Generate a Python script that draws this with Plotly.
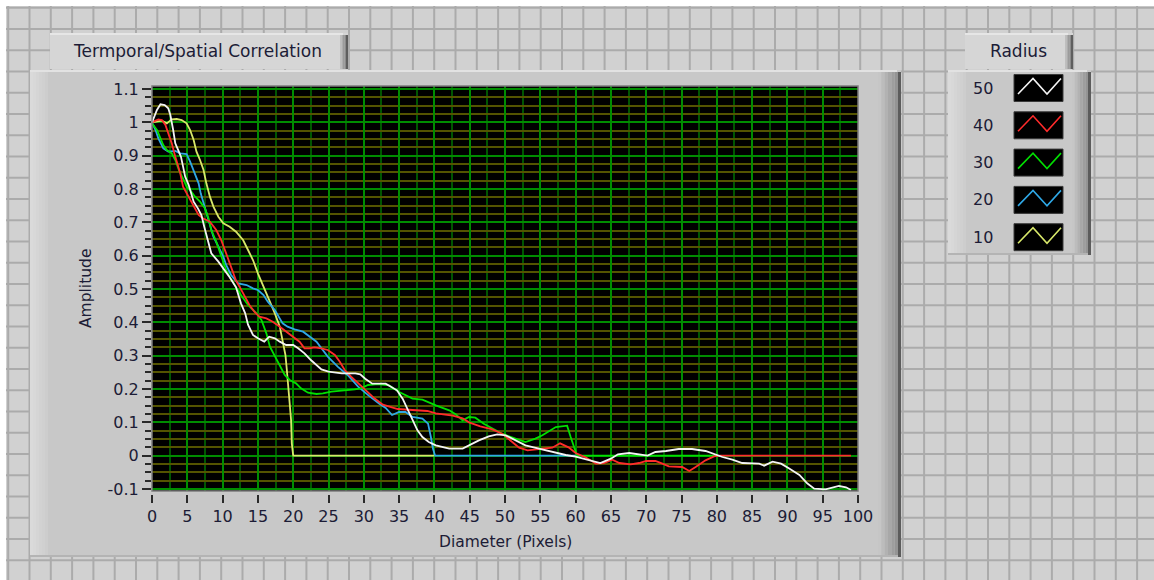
import plotly.graph_objects as go

# ---------------- data ----------------
radius_labels = ["50", "40", "30", "20", "10"]
series_colors = ["#f4f4f4", "#ff2b2b", "#00e000", "#2fa8e6", "#d8e86a"]

r50_x = [0, 0.7, 1.2, 1.8, 2.3, 2.6, 3.0, 3.3, 3.8, 4.1, 4.4, 4.7, 5.2, 5.5, 5.9, 6.5, 7.0,
         7.4, 8.0, 8.4, 9.4, 10.1, 11.0, 11.9, 12.6, 13.2, 13.6, 14.3, 15.0, 15.9, 16.6, 17.4,
         18.1, 19.0, 20.0, 20.7, 21.6, 22.5, 23.3, 24.0, 25.0, 26.9, 28.8, 29.5, 30.2, 31.2,
         33.1, 34.0, 34.7, 35.5, 36.2, 36.9, 37.6, 38.3, 39.2, 40.2, 42.1, 44.0, 44.9, 46.3,
         47.7, 48.9, 50.1, 51.5, 52.9, 54.8, 56.7, 58.6, 60.0, 62.0, 63.5, 65.0, 66.0, 67.6,
         69.0, 70.2, 71.3, 72.8, 74.6, 76.5, 78.4, 79.4, 80.8, 82.2, 83.6, 86.0, 86.7, 87.9,
         89.1, 90.2, 91.7, 92.8, 93.8, 95.4, 96.4, 97.3, 98.3, 99.0]
r50_y = [1.0, 1.037, 1.054, 1.052, 1.042, 1.022, 0.977, 0.937, 0.912, 0.897, 0.867, 0.837,
         0.812, 0.787, 0.762, 0.742, 0.722, 0.687, 0.637, 0.607, 0.582, 0.562, 0.535, 0.505,
         0.457, 0.427, 0.393, 0.362, 0.352, 0.342, 0.357, 0.352, 0.342, 0.332, 0.332, 0.322,
         0.307, 0.287, 0.272, 0.259, 0.252, 0.247, 0.247, 0.244, 0.231, 0.216, 0.216, 0.206,
         0.196, 0.171, 0.141, 0.108, 0.076, 0.056, 0.041, 0.031, 0.021, 0.021, 0.031, 0.046,
         0.058, 0.064, 0.061, 0.046, 0.031, 0.021, 0.011, 0.002, -0.003, -0.014, -0.022,
         -0.009, 0.004, 0.008, 0.004, 0.0, 0.011, 0.014, 0.020, 0.020, 0.014, 0.006, -0.004,
         -0.012, -0.022, -0.024, -0.030, -0.018, -0.024, -0.038, -0.058, -0.083, -0.099,
         -0.101, -0.095, -0.091, -0.095, -0.103]

r40_x = [0, 0.9, 1.4, 1.9, 2.3, 2.8, 3.3, 4.0, 4.4, 5.2, 5.9, 6.6, 7.2, 8.2, 9.1, 9.8, 10.5,
         11.2, 11.9, 12.4, 13.1, 13.8, 14.5, 15.2, 16.2, 17.1, 18.1, 19.0, 20.0, 20.9, 21.6,
         22.3, 23.0, 24.0, 24.9, 25.9, 26.6, 27.3, 28.2, 29.4, 30.6, 31.5, 32.7, 34.8, 37.0,
         39.0, 40.2, 42.6, 44.0, 44.9, 46.5, 48.2, 49.6, 51.0, 52.0, 53.2, 55.3, 56.7, 57.8,
         59.0, 60.0, 61.4, 62.9, 64.0, 65.2, 66.2, 67.8, 69.0, 70.0, 71.3, 72.3, 73.2, 75.1,
         76.1, 77.0, 78.4, 79.6, 80.3, 99.0]
r40_y = [1.0, 1.009, 1.007, 0.992, 0.967, 0.937, 0.897, 0.847, 0.807, 0.777, 0.747, 0.722,
         0.712, 0.702, 0.677, 0.647, 0.607, 0.567, 0.525, 0.507, 0.477, 0.452, 0.432, 0.417,
         0.412, 0.402, 0.387, 0.372, 0.357, 0.342, 0.322, 0.322, 0.325, 0.322, 0.317, 0.302,
         0.282, 0.257, 0.237, 0.212, 0.190, 0.172, 0.153, 0.140, 0.136, 0.134, 0.127, 0.120,
         0.112, 0.100, 0.088, 0.079, 0.066, 0.042, 0.024, 0.016, 0.022, 0.024, 0.037, 0.025,
         0.008, -0.005, -0.024, -0.022, -0.012, -0.022, -0.026, -0.022, -0.016, -0.016,
         -0.024, -0.032, -0.034, -0.046, -0.034, -0.014, -0.002, 0.0, 0.0]

r30_x = [0, 0.7, 1.2, 1.6, 2.1, 2.8, 3.3, 3.8, 4.5, 4.9, 5.4, 6.1, 6.8, 7.5, 8.0, 8.4, 9.1,
         9.6, 10.1, 10.5, 11.0, 11.7, 12.6, 13.6, 14.8, 15.5, 16.2, 16.7, 17.4, 18.1, 18.8,
         19.5, 20.4, 21.1, 22.1, 23.3, 24.2, 25.4, 27.3, 28.7, 29.6, 30.6, 32.0, 33.6, 34.3,
         35.0, 36.9, 38.3, 40.2, 42.1, 43.0, 44.0, 44.9, 45.8, 47.0, 48.2, 49.6, 51.5, 52.9,
         54.3, 55.3, 57.2, 58.8, 59.3, 59.8, 60.2, 80.0]
r30_y = [0.997, 0.977, 0.952, 0.932, 0.917, 0.907, 0.887, 0.857, 0.827, 0.807, 0.797, 0.777,
         0.762, 0.742, 0.712, 0.677, 0.642, 0.612, 0.587, 0.557, 0.537, 0.512, 0.482, 0.452,
         0.427, 0.407, 0.367, 0.327, 0.297, 0.272, 0.242, 0.227, 0.217, 0.202, 0.189, 0.185,
         0.187, 0.192, 0.195, 0.199, 0.202, 0.212, 0.215, 0.211, 0.201, 0.191, 0.171, 0.168,
         0.151, 0.136, 0.124, 0.106, 0.116, 0.114, 0.096, 0.081, 0.066, 0.051, 0.041, 0.051,
         0.061, 0.086, 0.090, 0.056, 0.021, 0.0, 0.0]

r20_x = [0, 0.5, 0.9, 1.6, 2.3, 3.3, 4.0, 4.9, 5.4, 6.1, 6.6, 6.9, 7.5, 8.0, 8.7, 9.4, 10.1,
         10.5, 11.2, 12.2, 13.4, 14.3, 15.0, 15.8, 16.4, 17.4, 18.5, 19.2, 20.2, 21.4, 22.3,
         23.3, 24.0, 24.9, 26.3, 27.7, 29.2, 30.7, 32.2, 33.1, 34.0, 35.0, 35.9, 36.9, 38.3,
         39.1, 39.5, 39.8, 40.1, 60.0]
r20_y = [1.0, 0.977, 0.952, 0.922, 0.912, 0.914, 0.907, 0.905, 0.882, 0.847, 0.817, 0.787,
         0.742, 0.707, 0.657, 0.627, 0.597, 0.572, 0.542, 0.517, 0.512, 0.502, 0.497, 0.482,
         0.462, 0.437, 0.397, 0.387, 0.379, 0.372, 0.357, 0.342, 0.322, 0.297, 0.267, 0.242,
         0.207, 0.180, 0.156, 0.143, 0.122, 0.131, 0.131, 0.116, 0.111, 0.096, 0.056, 0.021,
         0.0, 0.0]

r10_x = [0, 0.7, 1.4, 2.1, 2.8, 3.5, 4.2, 4.9, 5.4, 5.9, 6.3, 6.8, 7.3, 7.7, 8.2, 8.7, 9.4,
         10.1, 11.0, 11.9, 12.9, 13.6, 14.3, 15.0, 15.7, 16.7, 17.4, 18.1, 18.5, 18.9, 19.1,
         19.3, 19.5, 19.7, 19.8, 20.0, 40.0]
r10_y = [1.0, 1.002, 1.005, 0.997, 1.009, 1.010, 1.007, 0.997, 0.977, 0.947, 0.912, 0.887,
         0.857, 0.817, 0.777, 0.747, 0.717, 0.697, 0.687, 0.672, 0.647, 0.617, 0.587, 0.547,
         0.512, 0.467, 0.427, 0.387, 0.347, 0.302, 0.257, 0.207, 0.157, 0.107, 0.037, 0.0, 0.0]

series_x = [r50_x, r40_x, r30_x, r20_x, r10_x]
series_y = [r50_y, r40_y, r30_y, r20_y, r10_y]

x_tick_vals = [0, 5, 10, 15, 20, 25, 30, 35, 40, 45, 50, 55, 60, 65, 70, 75, 80, 85, 90, 95, 100]
x_tick_text = ["0", "5", "10", "15", "20", "25", "30", "35", "40", "45", "50", "55", "60",
               "65", "70", "75", "80", "85", "90", "95", "100"]
y_tick_vals = [-0.1, 0.0, 0.1, 0.2, 0.3, 0.4, 0.5, 0.6, 0.7, 0.8, 0.9, 1.0, 1.1]
y_tick_text = ["-0.1", "0", "0.1", "0.2", "0.3", "0.4", "0.5", "0.6", "0.7", "0.8", "0.9",
               "1", "1.1"]

chart_title = "Termporal/Spatial Correlation"
legend_title = "Radius"
x_title = "Diameter (Pixels)"
y_title = "Amplitude"

# ---------------- layout geometry ----------------
W, H = 1154, 580
ML, MR, MT, MB = 152, 296, 86, 89
PW = W - ML - MR
PH = H - MT - MB
FONT = "DejaVu Sans"
TXT = "#1c1c36"


def px(x):
    return (x - ML) / PW


def py(y):
    return (H - MB - y) / PH


shapes = []
annots = []


def rect(x0, y0, x1, y1, fill, layer="below", lc=None, lw=0):
    shapes.append(dict(type="rect", xref="paper", yref="paper",
                       x0=px(x0), x1=px(x1), y0=py(y1), y1=py(y0),
                       fillcolor=fill, layer=layer,
                       line=dict(width=lw, color=lc or fill)))


def hline(y, x0, x1, color, w):
    shapes.append(dict(type="line", xref="paper", yref="paper", x0=px(x0), x1=px(x1),
                       y0=py(y), y1=py(y), layer="below", line=dict(color=color, width=w)))


def vline(x, y0, y1, color, w):
    shapes.append(dict(type="line", xref="paper", yref="paper", x0=px(x), x1=px(x),
                       y0=py(y0), y1=py(y1), layer="below", line=dict(color=color, width=w)))


def label(text, x, y, size, angle=0):
    annots.append(dict(text=text, x=px(x), y=py(y), xref="paper", yref="paper",
                       xanchor="center", yanchor="middle", showarrow=False, textangle=angle,
                       font=dict(family=FONT, size=size, color=TXT)))


# page background: white border + grey grid pattern
rect(0, 0, W, 6, "#ffffff")
rect(0, 0, 6, H, "#ffffff")
k = 0
while 8.2 + 21.3 * k < W:
    vline(8.2 + 21.3 * k, 6, H, "#ababab", 2)
    k += 1
k = 0
while 7.75 + 21.25 * k < H:
    hline(7.75 + 21.25 * k, 6, W, "#ababab", 2)
    k += 1


def panel(x0, y0, x1, y1, bevel=18, grad=20):
    rect(x0, y0, x1, y1, "#c8c8c8")
    steps = 6
    for i in range(steps):
        c = 218 - int(i * 16 / steps)
        rect(x0 + i * bevel / steps, y0, x0 + (i + 1) * bevel / steps, y1,
             "rgb(%d,%d,%d)" % (c, c, c))
    for i in range(steps):
        c = 198 - int(i * 60 / steps)
        rect(x1 - 3 - grad + i * grad / steps, y0 + 2, x1 - 3 - grad + (i + 1) * grad / steps, y1,
             "rgb(%d,%d,%d)" % (c, c, c))
    rect(x1 - 3, y0 + 2, x1, y1, "#5c5c5c")
    hline(y0 + 1, x0, x1 - 4, "#e2e2e2", 2)
    hline(y1 - 1, x0, x1 - 3, "#b4b4b4", 2)


def tab(x0, y0, x1, y1):
    rect(x0, y0, x1, y1, "#d6d6d6")
    hline(y0 + 1, x0, x1 - 5, "#e6e6e6", 2)
    steps = 4
    for i in range(steps):
        c = 190 - int(i * 70 / steps)
        rect(x1 - 8 + i * 6 / steps, y0 + 2, x1 - 8 + (i + 1) * 6 / steps, y1,
             "rgb(%d,%d,%d)" % (c, c, c))
    rect(x1 - 2, y0 + 2, x1, y1, "#5e5e5e")


panel(30, 70, 901, 557, bevel=18, grad=20)
tab(50, 33, 348, 69)
panel(948, 70, 1091, 255, bevel=18, grad=16)
tab(965, 33, 1073, 69)

# plot area background (black)
rect(ML, MT, W - MR, H - MB, "#000000")

label(chart_title, 197, 51, 17)
label(legend_title, 1018, 51, 17)
label(y_title, 86, 289, 15.5, angle=-90)
label(x_title, 505, 542, 15.5)

# LabVIEW-style legend: label on the left, black swatch with zigzag on the right
for i, (lab, col) in enumerate(zip(radius_labels, series_colors)):
    cy = 88 + 37.3 * i
    label(lab, 983, cy, 16)
    rect(1014, cy - 13.5, 1063, cy + 13.5, "#000000", layer="above", lc="#3a3a3a", lw=1)
    pts = [(1018, cy + 6), (1033, cy - 9.5), (1047, cy + 6), (1061, cy - 9.5)]
    path = "M " + " L ".join("%f,%f" % (px(a), py(b)) for a, b in pts)
    shapes.append(dict(type="path", xref="paper", yref="paper", path=path, layer="above",
                       line=dict(color=col, width=1.6)))

# plot frame
shapes.append(dict(type="rect", xref="paper", yref="paper", x0=0, x1=1, y0=0, y1=1,
                   layer="above", line=dict(color="#7c7c7c", width=1.5)))

fig = go.Figure()
for lab, col, xs, ys in reversed(list(zip(radius_labels, series_colors, series_x, series_y))):
    fig.add_trace(go.Scatter(x=xs, y=ys, mode="lines", name=lab, showlegend=False,
                             line=dict(color=col, width=1.8), hoverinfo="skip"))

fig.update_layout(
    width=W, height=H, autosize=False,
    margin=dict(l=ML, r=MR, t=MT, b=MB, pad=0),
    paper_bgcolor="#d1d1d1", plot_bgcolor="#000000",
    showlegend=False,
    shapes=shapes, annotations=annots,
    font=dict(family=FONT, size=16, color=TXT),
    xaxis=dict(range=[0, 100], tickmode="array", tickvals=x_tick_vals, ticktext=x_tick_text,
               ticks="outside", ticklen=8, tickwidth=2, tickcolor="#2a2a2a",
               showline=True, linecolor="#c8c8c8", linewidth=4, mirror=False,
               showgrid=True, gridcolor="#008c00", gridwidth=2, zeroline=False,
               minor=dict(dtick=2.5, tick0=0, showgrid=True, gridcolor="#005600", gridwidth=2,
                          ticks=""),
               tickfont=dict(family=FONT, size=16, color=TXT)),
    yaxis=dict(range=[-0.106, 1.109], tickmode="array", tickvals=y_tick_vals,
               ticktext=y_tick_text,
               ticks="outside", ticklen=9, tickwidth=2, tickcolor="#2a2a2a",
               showline=False, showgrid=True, gridcolor="#008c00", gridwidth=2,
               zeroline=False,
               minor=dict(dtick=0.025, tick0=0, showgrid=True, gridcolor="#545400",
                          gridwidth=1.5, ticks="outside", ticklen=6, tickwidth=2,
                          tickcolor="#2a2a2a"),
               tickfont=dict(family=FONT, size=16, color=TXT)),
)

fig.write_html("out.html", config={"displayModeBar": False},
               post_script="document.body.style.margin='0';document.body.style.overflow='hidden';")
